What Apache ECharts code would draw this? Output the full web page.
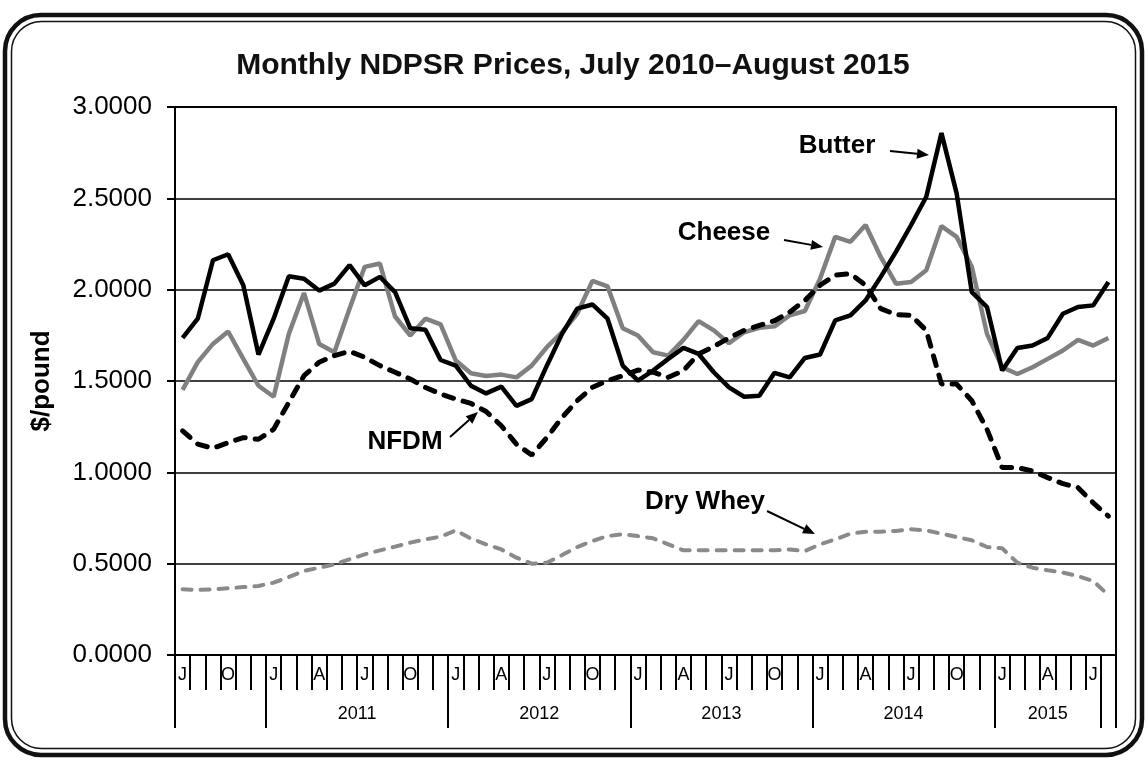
<!DOCTYPE html>
<html>
<head>
<meta charset="utf-8">
<title>Monthly NDPSR Prices</title>
<script src="https://cdn.jsdelivr.net/npm/echarts@6/dist/echarts.min.js"></script>
<style>
  html, body { margin: 0; padding: 0; background: #fff; }
  #chart { width: 1147px; height: 760px; }
</style>
</head>
<body>
<div id="chart"></div>
<script>
// July 2010 - August 2015
const months = [
  '2010-07', '2010-08', '2010-09', '2010-10', '2010-11', '2010-12',
  '2011-01', '2011-02', '2011-03', '2011-04', '2011-05', '2011-06', '2011-07', '2011-08', '2011-09', '2011-10', '2011-11', '2011-12',
  '2012-01', '2012-02', '2012-03', '2012-04', '2012-05', '2012-06', '2012-07', '2012-08', '2012-09', '2012-10', '2012-11', '2012-12',
  '2013-01', '2013-02', '2013-03', '2013-04', '2013-05', '2013-06', '2013-07', '2013-08', '2013-09', '2013-10', '2013-11', '2013-12',
  '2014-01', '2014-02', '2014-03', '2014-04', '2014-05', '2014-06', '2014-07', '2014-08', '2014-09', '2014-10', '2014-11', '2014-12',
  '2015-01', '2015-02', '2015-03', '2015-04', '2015-05', '2015-06', '2015-07', '2015-08'
]
const monthLetters = ['J', 'F', 'M', 'A', 'M', 'J', 'J', 'A', 'S', 'O', 'N', 'D']
const shownMonths = ['01', '04', '07', '10']

// year groups on the second axis level: label and index of first month
const yearLabels = ['', '2011', '2012', '2013', '2014', '2015', '']
const yearStarts = [0, 6, 18, 30, 42, 54, 61]

const yTicks = [0, 0.5, 1, 1.5, 2, 2.5, 3]

const butter = [
  1.736, 1.841, 2.161, 2.194, 2.024, 1.645,
  1.841, 2.073, 2.060, 1.995, 2.033, 2.134, 2.024, 2.070, 1.987, 1.789, 1.780, 1.615,
  1.584, 1.474, 1.432, 1.469, 1.364, 1.401, 1.584, 1.758, 1.896, 1.919, 1.841, 1.584,
  1.502, 1.557, 1.621, 1.681, 1.648, 1.548, 1.465, 1.414, 1.419, 1.545, 1.520, 1.626,
  1.645, 1.832, 1.859, 1.941, 2.070, 2.207, 2.354, 2.509, 2.857, 2.527, 1.987, 1.905,
  1.557, 1.681, 1.694, 1.736, 1.868, 1.905, 1.914, 2.042
]
const cheese = [
  1.451, 1.603, 1.703, 1.771, 1.621, 1.474,
  1.414, 1.758, 1.982, 1.703, 1.657, 1.896, 2.125, 2.143, 1.853, 1.749, 1.841, 1.810,
  1.612, 1.542, 1.527, 1.535, 1.520, 1.584, 1.685, 1.767, 1.868, 2.048, 2.018, 1.789,
  1.749, 1.657, 1.639, 1.725, 1.828, 1.777, 1.707, 1.767, 1.791, 1.799, 1.860, 1.883,
  2.060, 2.289, 2.262, 2.354, 2.179, 2.033, 2.042, 2.106, 2.348, 2.289, 2.125, 1.758,
  1.575, 1.538, 1.575, 1.621, 1.667, 1.725, 1.694, 1.736
]
const nfdm = [
  1.227, 1.154, 1.132, 1.163, 1.190, 1.181,
  1.236, 1.383, 1.529, 1.603, 1.639, 1.663, 1.630, 1.584, 1.548, 1.511, 1.465, 1.429,
  1.401, 1.377, 1.333, 1.255, 1.154, 1.095, 1.190, 1.300, 1.392, 1.465, 1.502, 1.529,
  1.560, 1.548, 1.520, 1.557, 1.648, 1.689, 1.736, 1.777, 1.804, 1.830, 1.877, 1.941,
  2.024, 2.079, 2.088, 2.024, 1.896, 1.864, 1.859, 1.777, 1.483, 1.483, 1.392, 1.236,
  1.026, 1.026, 1.007, 0.971, 0.938, 0.916, 0.833, 0.760
]
const dryWhey = [
  0.360, 0.356, 0.360, 0.365, 0.372, 0.378,
  0.396, 0.427, 0.460, 0.478, 0.496, 0.524, 0.551, 0.573, 0.593, 0.615, 0.633, 0.648,
  0.682, 0.637, 0.606, 0.578, 0.533, 0.500, 0.505, 0.547, 0.591, 0.624, 0.651, 0.661,
  0.651, 0.639, 0.606, 0.573, 0.573, 0.573, 0.573, 0.573, 0.573, 0.573, 0.578, 0.569,
  0.606, 0.633, 0.664, 0.675, 0.675, 0.679, 0.688, 0.682, 0.664, 0.646, 0.628, 0.591,
  0.584, 0.505, 0.478, 0.464, 0.451, 0.432, 0.405, 0.328
]

const FONT = 'Liberation Sans, Arial, sans-serif'

// half-month points, used only to place the tick marks and year labels
const halfSteps = []
for (let k = 0; k <= months.length * 2; k++) halfSteps.push(String(k))
const yearLabelAt = {}
for (let g = 0; g < yearLabels.length; g++) {
  const end = g + 1 < yearStarts.length ? yearStarts[g + 1] : months.length
  yearLabelAt[yearStarts[g] + end] = yearLabels[g]
}
const isYearBreak = (k) => k === months.length * 2 || (k % 2 === 0 && yearStarts.includes(k / 2))

// annotation arrow: line with a filled head
function arrow (x1, y1, x2, y2) {
  const a = Math.atan2(y2 - y1, x2 - x1)
  const len = 12
  const half = 5
  const bx = x2 - len * Math.cos(a)
  const by = y2 - len * Math.sin(a)
  return [
    { type: 'line', z: 100, shape: { x1, y1, x2: bx, y2: by }, style: { stroke: '#000', lineWidth: 2 } },
    {
      type: 'polygon',
      z: 100,
      shape: { points: [[x2, y2], [bx + half * Math.sin(a), by - half * Math.cos(a)], [bx - half * Math.sin(a), by + half * Math.cos(a)]] },
      style: { fill: '#000' }
    }
  ]
}
function note (text, x, y) {
  return { type: 'text', z: 100, x, y, style: { text, font: 'bold 26px ' + FONT, fill: '#000', align: 'center', verticalAlign: 'middle' } }
}

const chart = echarts.init(document.getElementById('chart'))
const option = {
  animation: false,
  backgroundColor: '#fff',
  title: {
    text: 'Monthly NDPSR Prices, July 2010\u2013August 2015',
    left: 568,
    top: 46,
    textAlign: 'center',
    textStyle: { fontFamily: FONT, fontSize: 30, fontWeight: 'bold', color: '#111' }
  },
  grid: {
    left: 175,
    right: 31,
    top: 107,
    bottom: 105,
    show: true,
    borderColor: '#000',
    borderWidth: 2
  },
  xAxis: [
    {
      // month letters
      type: 'category',
      data: months,
      boundaryGap: true,
      position: 'bottom',
      axisLine: { lineStyle: { color: '#000', width: 2 } },
      axisTick: { show: false },
      axisLabel: {
        interval: (i, v) => shownMonths.includes(v.slice(5)),
        formatter: (v) => monthLetters[Number(v.slice(5)) - 1],
        margin: 11,
        fontFamily: FONT,
        fontSize: 18,
        color: '#000'
      },
      splitLine: { show: false }
    },
    {
      // short tick at every month boundary
      type: 'category',
      data: halfSteps,
      boundaryGap: false,
      position: 'bottom',
      axisLine: { show: false },
      axisTick: { show: true, interval: (k) => k % 2 === 0, length: 35, lineStyle: { color: '#000', width: 2 } },
      axisLabel: { show: false },
      splitLine: { show: false }
    },
    {
      // year level: long ticks and year labels
      type: 'category',
      data: halfSteps,
      boundaryGap: false,
      position: 'bottom',
      axisLine: { show: false },
      axisTick: { show: true, interval: (k) => isYearBreak(k), length: 73, lineStyle: { color: '#000', width: 2 } },
      axisLabel: {
        interval: (k) => !!yearLabelAt[k],
        formatter: (v) => yearLabelAt[v] || '',
        margin: 50,
        fontFamily: FONT,
        fontSize: 18,
        color: '#000'
      },
      splitLine: { show: false }
    }
  ],
  yAxis: {
    type: 'value',
    min: yTicks[0],
    max: yTicks[yTicks.length - 1],
    interval: 0.5,
    name: '$/pound',
    nameLocation: 'middle',
    nameGap: 120,
    nameTextStyle: { fontFamily: FONT, fontSize: 26, fontWeight: 'bold', color: '#000' },
    axisLine: { show: true, lineStyle: { color: '#000', width: 2 } },
    axisTick: { show: true, length: 8, lineStyle: { color: '#000', width: 2 } },
    axisLabel: {
      formatter: (v) => v.toFixed(4),
      margin: 23,
      fontFamily: FONT,
      fontSize: 26,
      color: '#000'
    },
    splitLine: { lineStyle: { color: '#000', width: 1.5 } }
  },
  series: [
    {
      name: 'Dry Whey',
      type: 'line',
      data: dryWhey,
      symbol: 'none',
      lineStyle: { color: '#8a8a8a', width: 4, type: [9, 9], cap: 'round' }
    },
    {
      name: 'Cheese',
      type: 'line',
      data: cheese,
      symbol: 'none',
      lineStyle: { color: '#808080', width: 4.5 }
    },
    {
      name: 'NFDM',
      type: 'line',
      data: nfdm,
      symbol: 'none',
      lineStyle: { color: '#000', width: 5, type: [10, 10], cap: 'round' }
    },
    {
      name: 'Butter',
      type: 'line',
      data: butter,
      symbol: 'none',
      lineStyle: { color: '#000', width: 4.5 }
    }
  ],
  graphic: [
    // rounded frame
    { type: 'rect', shape: { x: 5, y: 15, width: 1137, height: 740, r: 36 }, style: { fill: 'none', stroke: '#111', lineWidth: 4.5 } },
    { type: 'rect', shape: { x: 11.5, y: 21.5, width: 1124, height: 727, r: 30 }, style: { fill: 'none', stroke: '#111', lineWidth: 1.5 } },
    note('Butter', 837, 146),
    ...arrow(890, 151, 929, 155),
    note('Cheese', 724, 233),
    ...arrow(784, 240, 823, 247),
    note('NFDM', 405, 442),
    ...arrow(450, 437, 478, 412),
    note('Dry Whey', 705, 502),
    ...arrow(767, 511, 815, 534)
  ]
}
chart.setOption(option)
</script>
</body>
</html>
